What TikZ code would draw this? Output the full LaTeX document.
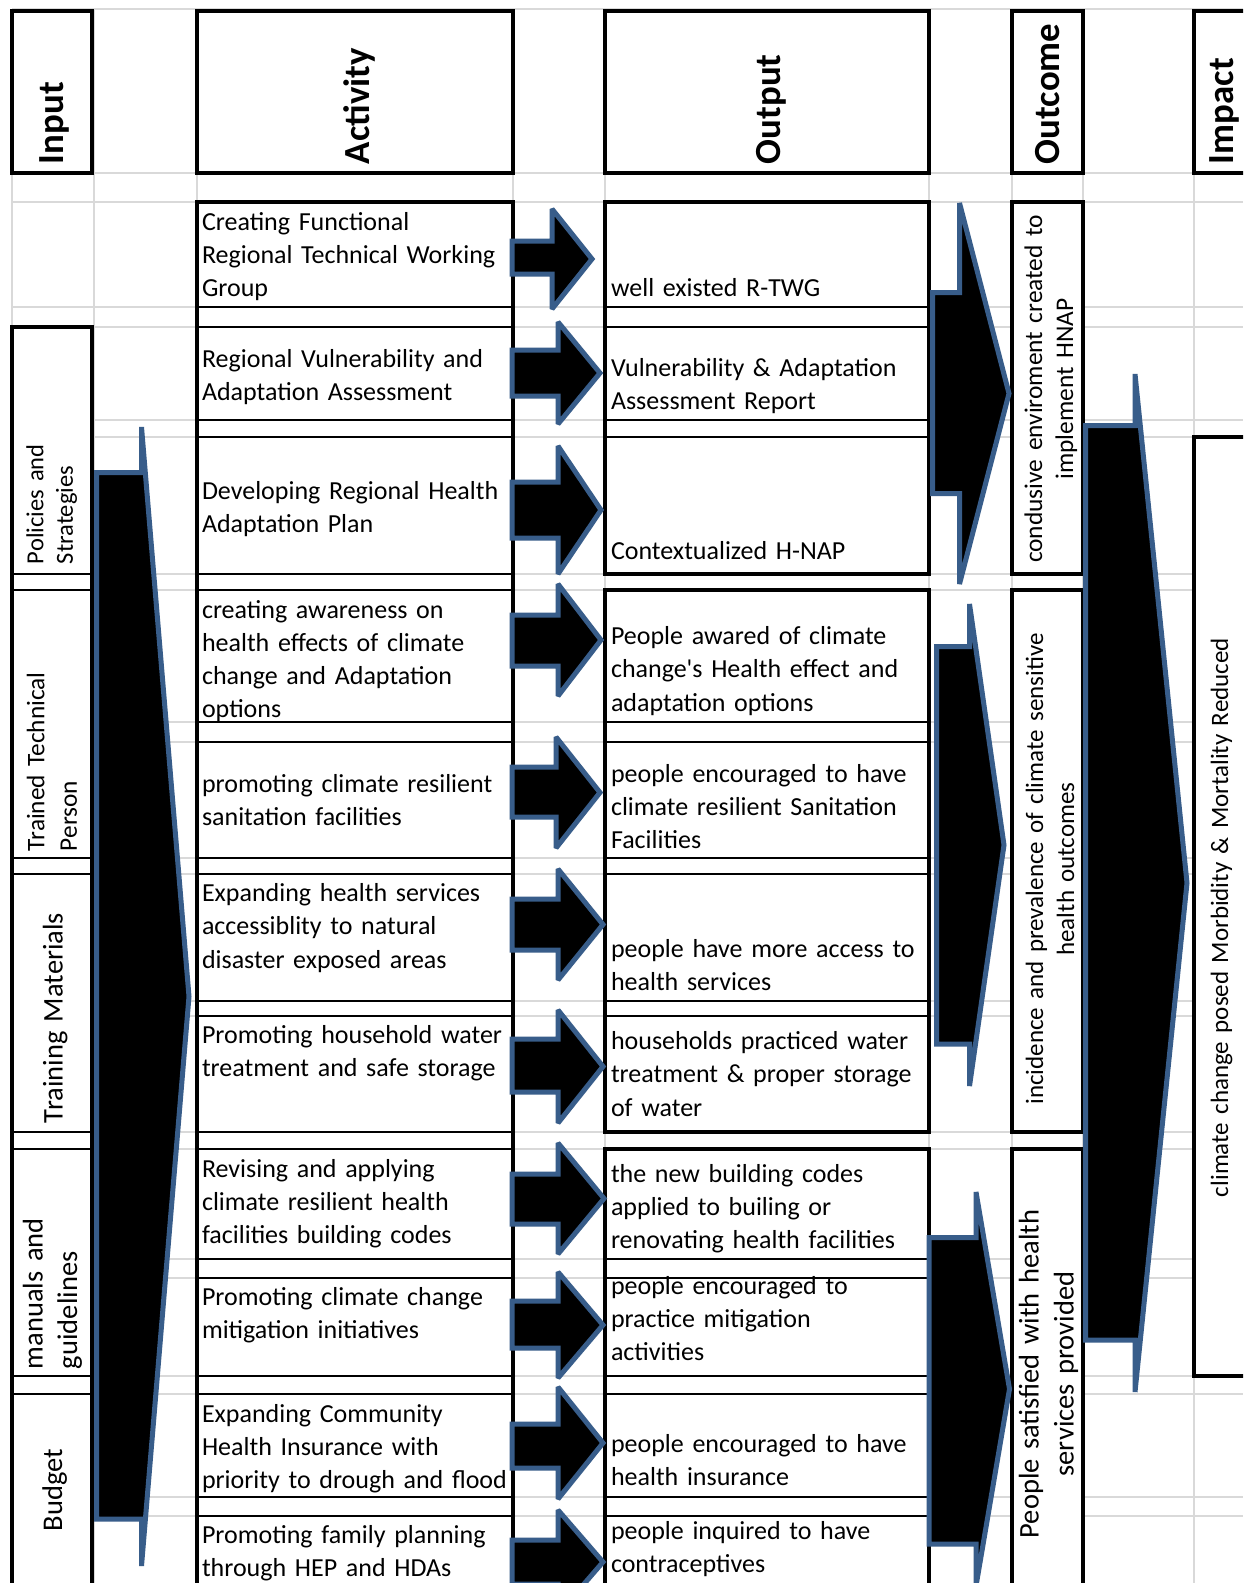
\documentclass[tikz,border=0pt]{standalone}
\usepackage{fontspec}
\setmainfont{Carlito}[Ligatures=TeXOff]
\definecolor{gridgray}{HTML}{D9D9D9}
\definecolor{arrowblue}{HTML}{385D8A}
\newcommand{\myarrow}[8]{\draw[blockarrow] (#1,#3) -- (#2,#3) -- (#2,#5) -- (#7,#8) -- (#2,#6) -- (#2,#4) -- (#1,#4) -- cycle;}
\begin{document}
\begin{tikzpicture}[x=1pt,y=-1pt,
  gridline/.style={draw=gridgray, line width=1.8pt},
  thickbox/.style={draw=black, line width=4.5pt, fill=white},
  thinline/.style={draw=black, line width=2.5pt},
  blockarrow/.style={fill=black, draw=arrowblue, line width=5pt, line join=miter, miter limit=2},
  celltext/.style={anchor=base west, inner sep=0pt, outer sep=0pt, text width=330pt, align=left, font=\fontsize{26pt}{33.3pt}\selectfont},
  header/.style={anchor=base west, inner sep=0pt, outer sep=0pt, rotate=90, font=\fontsize{36.8pt}{44pt}\selectfont\bfseries},
  sidelabel/.style={anchor=base west, inner sep=0pt, outer sep=0pt, rotate=90, text width=300pt, align=left},
  vlabel/.style={anchor=base, inner sep=0pt, outer sep=0pt, rotate=90, text width=600pt, align=center},
]
\useasboundingbox (0,0) rectangle (1243,1583);
\clip (0,0) rectangle (1243,1583);
\fill[white] (0,0) rectangle (1243,1583);

% spreadsheet grid
\foreach \yy in {9,173,202,307,327,420,437,574,590,722,742,858,874,1001,1016,1132,1149,1259,1278,1376,1394,1497,1516}
  \draw[gridline] (12,\yy) -- (1243,\yy);
\foreach \xx in {12,94,197,513,605,929,1012,1083,1194}
  \draw[gridline] (\xx,9) -- (\xx,1583);

% header boxes
\draw[thickbox] (12,11) rectangle (92,173);
\draw[thickbox] (197,11) rectangle (513,173);
\draw[thickbox] (605,11) rectangle (929,173);
\draw[thickbox] (1012,11) rectangle (1083,173);
\draw[thickbox] (1194,11) rectangle (1262,173);

% activity column
\fill[white] (197,202) rectangle (513,1600);
\foreach \yy in {307,327,420,437,574,590,722,742,858,874,1001,1016,1132,1149,1259,1278,1376,1394,1497,1516}
  \draw[thinline] (197,\yy) -- (513,\yy);
\draw[thickbox, fill=none] (197,202) rectangle (513,1600);

% output blocks
\draw[thickbox] (605,202) rectangle (929,574);
\foreach \yy in {307,327,420,437} \draw[thinline] (605,\yy) -- (929,\yy);
\draw[thickbox] (605,590) rectangle (929,1132);
\foreach \yy in {722,742,858,874,1001,1016} \draw[thinline] (605,\yy) -- (929,\yy);
\draw[thickbox] (605,1149) rectangle (929,1600);
\foreach \yy in {1259,1278,1376,1394,1497,1516} \draw[thinline] (605,\yy) -- (929,\yy);

% outcome boxes
\draw[thickbox] (1012,202) rectangle (1083,574);
\draw[thickbox] (1012,590) rectangle (1083,1132);
\draw[thickbox] (1012,1149) rectangle (1083,1600);

% input column
\draw[thickbox] (12,327) rectangle (92,1600);
\foreach \yy in {574,590,858,874,1132,1149,1376,1394} \draw[thinline] (12,\yy) -- (92,\yy);

% impact box
\draw[thickbox] (1194,437) rectangle (1262,1376);

% small arrows activity -> output
\myarrow{512}{552}{241}{274}{209}{309}{592}{259}
\myarrow{512}{558}{350}{396}{322}{424}{600}{373}
\myarrow{512}{558}{482}{538}{446}{574}{601}{510}
\myarrow{512}{558}{615}{666}{584}{696}{601}{640}
\myarrow{512}{556}{767}{817}{737}{848}{600}{792.5}
\myarrow{512}{558}{899}{950}{869}{980}{603}{924.5}
\myarrow{512}{558}{1039}{1092}{1010}{1123}{603}{1066.5}
\myarrow{512}{558}{1174}{1224}{1143}{1254}{604}{1198.5}
\myarrow{512}{558}{1301}{1348}{1272}{1378}{603}{1325}
\myarrow{512}{558}{1424}{1468}{1387}{1499}{603}{1443}
\myarrow{512}{558}{1540}{1584}{1510}{1614}{603}{1562}

% big arrows
\myarrow{96.5}{141.5}{472.5}{1519}{427}{1566}{189}{996.5}
\myarrow{932.5}{959.5}{292.5}{493.5}{203}{584}{1009}{393.5}
\myarrow{936.5}{969.5}{646.5}{1044}{604}{1086}{1004}{845}
\myarrow{929}{976}{1237.5}{1544}{1192}{1586}{1009.5}{1389}
\myarrow{1085.5}{1135}{425.5}{1340}{374}{1392}{1187}{883}

% headers
\node[header] (hin) at (63,164) {Input};
\node[header] (hact) at (369.5,164) {Activity};
\node[header] (hout) at (780,164) {Output};
\node[header] (hoc) at (1059.5,164) {Outcome};
\node[header] (himp) at (1233,164) {Impact};

% input labels
\node[sidelabel, font=\fontsize{24.5pt}{29.5pt}\selectfont] (in1) at (43.3,564) {Policies and\\Strategies};
\node[sidelabel, font=\fontsize{25.3pt}{32.5pt}\selectfont] (in2) at (44.3,851) {Trained Technical\\Person};
\node[sidelabel, font=\fontsize{28.5pt}{34.5pt}\selectfont] (in3) at (62.5,1123) {Training Materials};
\node[sidelabel, font=\fontsize{28.5pt}{34.5pt}\selectfont] (in4) at (42.7,1369) {manuals and\\guidelines};
\node[sidelabel, font=\fontsize{28.5pt}{34.5pt}\selectfont] (in5) at (62,1531) {Budget};

% activity texts
\node[celltext] (a1) at (202,230) {Creating Functional\\Regional Technical Working\\Group};
\node[celltext] (a2) at (202,367) {Regional Vulnerability and\\Adaptation Assessment};
\node[celltext] (a3) at (202,499) {Developing Regional Health\\Adaptation Plan};
\node[celltext] (a4) at (202,618) {creating awareness on\\health effects of climate\\change and Adaptation\\options};
\node[celltext] (a5) at (202,792.5) {promoting climate resilient\\sanitation facilities};
\node[celltext] (a6) at (202,901.5) {Expanding health services\\accessiblity to natural\\disaster exposed areas};
\node[celltext] (a7) at (202,1043.5) {Promoting household water\\treatment and safe storage};
\node[celltext] (a8) at (202,1177) {Revising and applying\\climate resilient health\\facilities building codes};
\node[celltext] (a9) at (202,1305) {Promoting climate change\\mitigation initiatives};
\node[celltext] (a10) at (202,1422) {Expanding Community\\Health Insurance with\\priority to drough and flood};
\node[celltext] (a11) at (202,1543.5) {Promoting family planning\\through HEP and HDAs};

% output texts
\node[celltext] (o1) at (611,296) {well existed R-TWG};
\node[celltext] (o2) at (611,376) {Vulnerability \& Adaptation\\Assessment Report};
\node[celltext] (o3) at (611,559) {Contextualized H-NAP};
\node[celltext] (o4) at (611,644.5) {People awared of climate\\change's Health effect and\\adaptation options};
\node[celltext] (o5) at (611,782) {people encouraged to have\\climate resilient Sanitation\\Facilities};
\node[celltext] (o6) at (611,957) {people have more access to\\health services};
\node[celltext] (o7) at (611,1049.5) {households practiced water\\treatment \& proper storage\\of water};
\node[celltext] (o8) at (611,1182) {the new building codes\\applied to builing or\\renovating health facilities};
\node[celltext] (o9) at (611,1294) {people encouraged to\\practice mitigation\\activities};
\node[celltext] (o10) at (611,1452.5) {people encouraged to have\\health insurance};
\node[celltext] (o11) at (611,1539.5) {people inquired to have\\contraceptives};

% outcome and impact texts
\node[vlabel, font=\fontsize{25.4pt}{31pt}\selectfont] (oc1) at (1042,389) {condusive enviroment created to\\implement HNAP};
\node[vlabel, font=\fontsize{25pt}{31pt}\selectfont] (oc2) at (1043,869) {incidence and prevalence of climate sensitive\\health outcomes};
\node[vlabel, font=\fontsize{28.5pt}{35pt}\selectfont] (oc3) at (1038.5,1374) {People satisfied with health\\services provided};
\node[vlabel, font=\fontsize{25pt}{31pt}\selectfont] (imp) at (1228,917.5) {climate change posed Morbidity \& Mortality Reduced};
\end{tikzpicture}
\end{document}
